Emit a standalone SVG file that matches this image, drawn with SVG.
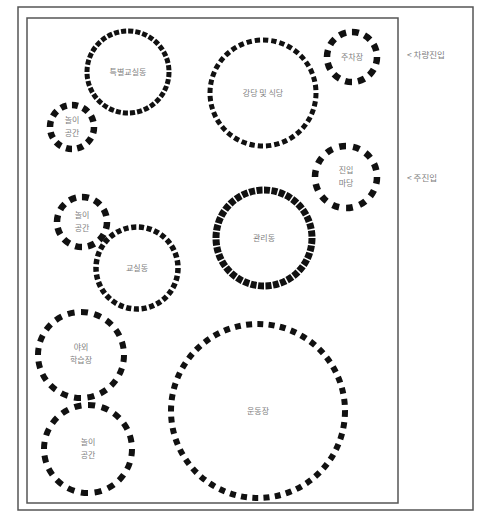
<svg xmlns="http://www.w3.org/2000/svg" width="481" height="514" viewBox="0 0 481 514">
<style>
.frame{fill:none;stroke:#555;stroke-width:1.5}
.c{fill:none;stroke:#111;stroke-linecap:butt}
.t{font-family:"Noto Sans CJK KR","Noto Sans",sans-serif;font-size:8px;fill:#808080;text-anchor:middle}
.side{font-family:"Noto Sans CJK KR","Noto Sans",sans-serif;font-size:8.5px;fill:#808080}
</style>
<rect width="481" height="514" fill="#fff"/>
<rect class="frame" x="18" y="7" width="455" height="503"/>
<rect class="frame" x="27" y="18" width="371" height="485"/>
<g id="connectors"></g>
<g id="n-special"><circle class="c" cx="128" cy="72" r="41" pathLength="100" stroke-width="5" stroke-dasharray="2 0.78"/><text class="t" x="128" y="75">특별교실동</text></g>
<g id="n-play1"><circle class="c" cx="72" cy="127" r="22" pathLength="100" stroke-width="6.5" stroke-dasharray="4.5 3.83"/><text class="t" x="72" y="123">놀이</text><text class="t" x="72" y="136">공간</text></g>
<g id="n-hall"><circle class="c" cx="263" cy="93" r="53" pathLength="100" stroke-width="5" stroke-dasharray="1.6 0.9"/><text class="t" x="263" y="96">강당 및 식당</text></g>
<g id="n-parking"><circle class="c" cx="352" cy="57" r="25" pathLength="100" stroke-width="6.5" stroke-dasharray="4.5 3.83"/><text class="t" x="352" y="60">주차장</text></g>
<g id="n-yard"><circle class="c" cx="346" cy="177" r="31" pathLength="100" stroke-width="6.5" stroke-dasharray="3.5 3.65"/><text class="t" x="346" y="173">진입</text><text class="t" x="346" y="186">마당</text></g>
<g id="n-admin"><circle class="c" cx="264" cy="238" r="48" pathLength="100" stroke-width="7" stroke-dasharray="2 0.5"/><text class="t" x="264" y="241">관리동</text></g>
<g id="n-play2"><circle class="c" cx="82" cy="222" r="25" pathLength="100" stroke-width="6.5" stroke-dasharray="4.5 3.83"/><text class="t" x="82" y="218">놀이</text><text class="t" x="82" y="231">공간</text></g>
<g id="n-class"><circle class="c" cx="137" cy="268" r="41" pathLength="100" stroke-width="5.5" stroke-dasharray="2 1.03"/><text class="t" x="137" y="271">교실동</text></g>
<g id="n-outdoor"><circle class="c" cx="81" cy="355" r="43" pathLength="100" stroke-width="6" stroke-dasharray="2.6 2.4"/><text class="t" x="81" y="350">야외</text><text class="t" x="81" y="363">학습장</text></g>
<g id="n-play3"><circle class="c" cx="88" cy="449" r="44" pathLength="100" stroke-width="6" stroke-dasharray="2.6 2.4"/><text class="t" x="88" y="445">놀이</text><text class="t" x="88" y="458">공간</text></g>
<g id="n-field"><circle class="c" cx="258" cy="411" r="87" pathLength="100" stroke-width="6" stroke-dasharray="1.1 0.98"/><text class="t" x="258" y="414">운동장</text></g>
<text class="side" x="407" y="58">&lt; 차량진입</text>
<text class="side" x="407" y="181">&lt; 주진입</text>
</svg>
